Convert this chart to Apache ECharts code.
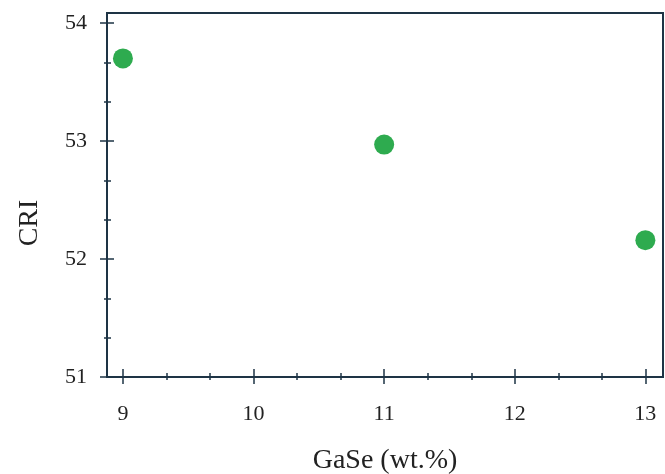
<!DOCTYPE html>
<html><head><meta charset="utf-8">
<script src="https://cdn.jsdelivr.net/npm/echarts@6/dist/echarts.min.js"></script>
<style>html,body{margin:0;padding:0;background:#fff}#c{width:665px;height:474px}</style>
</head><body><div id="c"></div>
<script>
const gaseWt = [9, 11, 13];
const cri = [53.70, 52.97, 52.16];
const xMajor = [9, 10, 11, 12, 13];
const xMinor = [9.333, 9.667, 10.333, 10.667, 11.333, 11.667, 12.333, 12.667];
const yMajor = [51, 52, 53, 54];
const yMinor = [51.333, 51.667, 52.333, 52.667, 53.333, 53.667];
const xTitle = 'GaSe (wt.%)';
const yTitle = 'CRI';

const axisColor = '#1e3445';
const font = '"Liberation Serif", "Times New Roman", serif';
const xMin = 8.878, xMax = 13.135, yMin = 51, yMax = 54.085;

function xa(extra) {
  return Object.assign({
    type: 'value', min: xMin, max: xMax, position: 'bottom',
    axisLine: {show: false}, axisTick: {show: false}, axisLabel: {show: false},
    splitLine: {show: false}
  }, extra);
}
function ya(extra) {
  return Object.assign({
    type: 'value', min: yMin, max: yMax, position: 'left',
    axisLine: {show: false}, axisTick: {show: false}, axisLabel: {show: false},
    splitLine: {show: false}
  }, extra);
}

const chart = echarts.init(document.getElementById('c'));
chart.setOption({
  animation: false,
  grid: {left: 107, top: 13, right: 2, bottom: 97, outerBoundsMode: 'none', containLabel: false,
         show: true, borderColor: axisColor, borderWidth: 2, backgroundColor: 'transparent'},
  xAxis: [
    xa({
      axisLine: {show: true, lineStyle: {color: axisColor, width: 2}},
      axisLabel: {show: true, customValues: xMajor, margin: 26, color: '#222', fontFamily: font, fontSize: 22},
      name: xTitle, nameLocation: 'middle', nameGap: 70,
      nameTextStyle: {color: '#222', fontFamily: font, fontSize: 28}
    }),
    xa({offset: -8, axisTick: {show: true, customValues: xMajor, length: 15, lineStyle: {color: axisColor, width: 1.5}}}),
    xa({offset: -4, axisTick: {show: true, customValues: xMinor, length: 7, lineStyle: {color: axisColor, width: 1.5}}})
  ],
  yAxis: [
    ya({
      axisLine: {show: true, lineStyle: {color: axisColor, width: 2}},
      axisLabel: {show: true, customValues: yMajor, margin: 20, color: '#222', fontFamily: font, fontSize: 22},
      name: yTitle, nameLocation: 'middle', nameGap: 63,
      nameTextStyle: {color: '#222', fontFamily: font, fontSize: 28, padding: [0, 56, 0, 0]}
    }),
    ya({offset: -7, axisTick: {show: true, customValues: yMajor, length: 14, lineStyle: {color: axisColor, width: 1.5}}}),
    ya({offset: -4, axisTick: {show: true, customValues: yMinor, length: 7, lineStyle: {color: axisColor, width: 1.5}}})
  ],
  series: [{
    type: 'scatter', xAxisIndex: 0, yAxisIndex: 0,
    data: gaseWt.map((x, i) => [x, cri[i]]),
    symbolSize: 20,
    itemStyle: {color: '#2eab4f', opacity: 1}
  }]
});
</script></body></html>
